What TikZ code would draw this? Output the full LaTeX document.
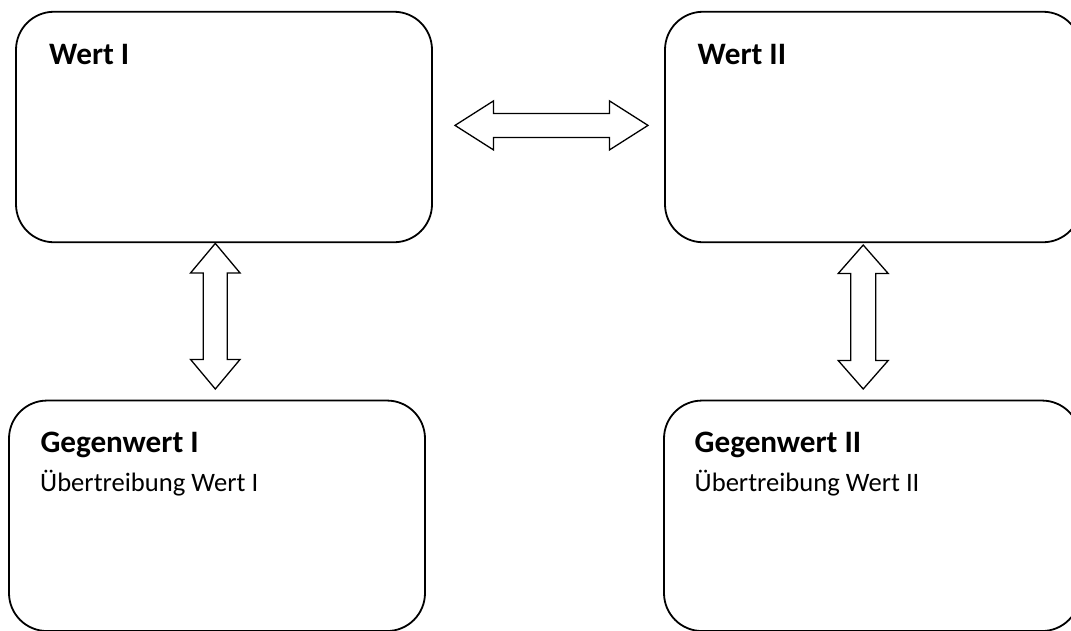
\documentclass[tikz,border=0pt]{standalone}
\usepackage{fontspec}
\setmainfont{Carlito}
\begin{document}
\begin{tikzpicture}[x=1pt,y=-1pt,
  box/.style={draw, line width=1.8pt, rounded corners=38pt, inner sep=0pt,
    minimum width=416pt, minimum height=230.5pt},
  headtext/.style={font=\fontsize{31.2}{36}\selectfont\bfseries, anchor=base west, inner sep=0pt},
  bodytext/.style={font=\fontsize{26.6}{32}\selectfont, anchor=base west, inner sep=0pt},
  arrowline/.style={draw, line width=1.3pt, line join=miter, fill=white},
  pics/dblarrow/.style n args={4}{code={
    % #1 half length, #2 head length, #3 head half width, #4 shaft half width
    \path[arrowline] (-#1,0) -- (-#1+#2,-#3) -- (-#1+#2,-#4) -- (#1-#2,-#4)
      -- (#1-#2,-#3) -- (#1,0) -- (#1-#2,#3) -- (#1-#2,#4) -- (-#1+#2,#4)
      -- (-#1+#2,#3) -- cycle;
  }}
]
\useasboundingbox (0,0) rectangle (1071,630);
\clip (0,0) rectangle (1071,630);

% boxes
\node[box] (w1) at (224,127) {};
\node[box] (w2) at (873,127) {};
\node[box] (g1) at (217,515.8) {};
\node[box] (g2) at (872,515.8) {};

% texts
\node[headtext] (tw1) at (49,64.3) {Wert I};
\node[headtext] (tw2) at (697.5,64.3) {Wert II};
\node[headtext] (tg1) at (40.3,452.8) {Gegenwert I};
\node[bodytext] (tb1) at (40,491.7) {Übertreibung Wert I};
\node[headtext] (tg2) at (694.5,452.3) {Gegenwert II};
\node[bodytext] (tb2) at (694.5,491.7) {Übertreibung Wert II};

% block arrows
\pic at (551.5,125.4) {dblarrow={96.5}{38.5}{24.5}{12}};
\pic[rotate=90] at (215.3,316.2) {dblarrow={72.8}{29.5}{24.7}{12}};
\pic[rotate=90] at (863.2,317) {dblarrow={72}{28.5}{25}{12.5}};
\end{tikzpicture}
\end{document}
